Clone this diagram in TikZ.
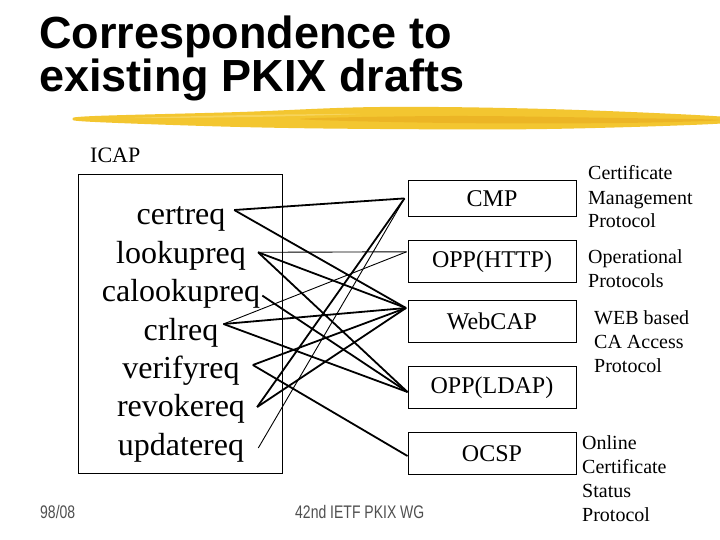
\documentclass[tikz,border=0pt]{standalone}
\usepackage{fontspec}
\setmainfont{Liberation Serif}
\setsansfont{Liberation Sans}
\usetikzlibrary{calc}
\definecolor{brushA}{RGB}{243,198,48}
\definecolor{brushB}{RGB}{232,168,28}
\definecolor{brushC}{RGB}{250,222,120}
\definecolor{footgray}{RGB}{80,80,80}
\begin{document}
\begin{tikzpicture}[x=1pt,y=-1pt,
  item/.style={font=\fontsize{32}{38}\selectfont, inner sep=0pt, anchor=base},
  proto/.style={draw, line width=1pt, minimum width=168pt, minimum height=41.5pt, inner sep=0pt, font=\fontsize{24}{28}\selectfont},
  desc/.style={font=\fontsize{20}{24}\selectfont, align=left, anchor=base west, inner sep=0pt},
  thicklink/.style={line width=1.8pt},
  thinlink/.style={line width=0.9pt},
  footer/.style={anchor=base west, inner sep=0pt, font=\sffamily\fontsize{14}{16}\selectfont, text=footgray}
  ]
\useasboundingbox (0,0) rectangle (720,540);
\fill[white] (0,0) rectangle (720,540);

% title (anchor = baseline of last line)
\node[anchor=base west, inner sep=0pt, align=left,
      font=\sffamily\bfseries\fontsize{45}{43}\selectfont] (title) at (39,92)
  {Correspondence to\\existing PKIX drafts};

% brush stroke
\fill[brushA] plot[smooth cycle, tension=0.6] coordinates
  {(73,119) (95,116) (240,112) (380,107) (547,109) (713,116) (720,120) (713,124) (547,129) (380,129) (240,127) (95,122)};
\fill[brushB, opacity=0.55] plot[smooth cycle, tension=0.6] coordinates
  {(300,119) (450,116) (620,118) (720,120) (620,123) (450,123)};
\fill[brushC, opacity=0.6] plot[smooth cycle, tension=0.6] coordinates
  {(130,118) (250,115) (360,114) (250,117)};

% ICAP box
\node[anchor=base west, inner sep=0pt, font=\fontsize{22}{26}\selectfont] (icap) at (90,163) {ICAP};
\node[draw, line width=1pt, minimum width=204pt, minimum height=299pt, inner sep=0pt] (icapbox) at (180,323.7) {};

\node[item] (certreq) at (181,225) {certreq};
\node[item] (lookupreq) at (181,263.3) {lookupreq};
\node[item] (calookupreq) at (181,301.6) {calookupreq};
\node[item] (crlreq) at (181,340) {crlreq};
\node[item] (verifyreq) at (181,378) {verifyreq};
\node[item] (revokereq) at (181,416.5) {revokereq};
\node[item] (updatereq) at (181,455) {updatereq};

% protocol boxes
\node[proto, minimum height=35.3pt] (cmp) at (492,198.4) {CMP};
\node[proto] (http) at (492,261.3) {OPP(HTTP)};
\node[proto] (webcap) at (492,321.5) {WebCAP};
\node[proto] (ldap) at (492,387.5) {OPP(LDAP)};
\node[proto] (ocsp) at (492,453.4) {OCSP};

% descriptions (anchor = baseline of last line)
\node[desc] (dcmp) at (588,228) {Certificate\\Management\\Protocol};
\node[desc] (dopp) at (588,287) {Operational\\Protocols};
\node[desc] (dweb) at (594,372) {WEB based\\CA Access\\Protocol};
\node[desc] (docsp) at (582,521) {Online\\Certificate\\Status\\Protocol};

% connector end points
\coordinate (cmpP) at ($(cmp.west)+(-3,0)$);
\coordinate (httpP) at ($(http.west)+(-1,-9.5)$);
\coordinate (webP) at ($(webcap.west)+(-1.5,-13.5)$);
\coordinate (ldapP) at ($(ldap.west)+(0,4.5)$);
\coordinate (ocspP) at ($(ocsp.west)+(0,2.6)$);

\coordinate (certP) at ($(certreq.base east)+(8.6,-15)$);
\coordinate (lookP) at ($(lookupreq.base east)+(12,-11)$);
\coordinate (calP) at ($(calookupreq.base east)+(2,-6)$);
\coordinate (crlP) at ($(crlreq.base east)+(5,-16)$);
\coordinate (verP) at ($(verifyreq.base east)+(13,-13)$);
\coordinate (revP) at ($(revokereq.base east)+(12,-9.5)$);
\coordinate (updP) at ($(updatereq.base east)+(14,-7)$);

% connectors
\draw[thicklink] (certP) -- (cmpP);
\draw[thicklink] (certP) -- (webP);
\draw[thinlink] (lookP) -- (httpP);
\draw[thicklink] (lookP) -- (webP);
\draw[thicklink] (lookP) -- (ldapP);
\draw[thicklink] (calP) -- (ldapP);
\draw[thinlink] (crlP) -- (httpP);
\draw[thicklink] (crlP) -- (webP);
\draw[thicklink] (crlP) -- (ldapP);
\draw[thicklink] (verP) -- (webP);
\draw[thicklink] (verP) -- (ocspP);
\draw[thicklink] (revP) -- (cmpP);
\draw[thicklink] (revP) -- (webP);
\draw[thinlink] (updP) -- (cmpP);

% footer
\node[footer] (date) at (40,518) {\scalebox{1}[1.3]{98/08}};
\node[footer] (wg) at (295,518) {\scalebox{1}[1.3]{42nd IETF PKIX WG}};
\end{tikzpicture}
\end{document}
